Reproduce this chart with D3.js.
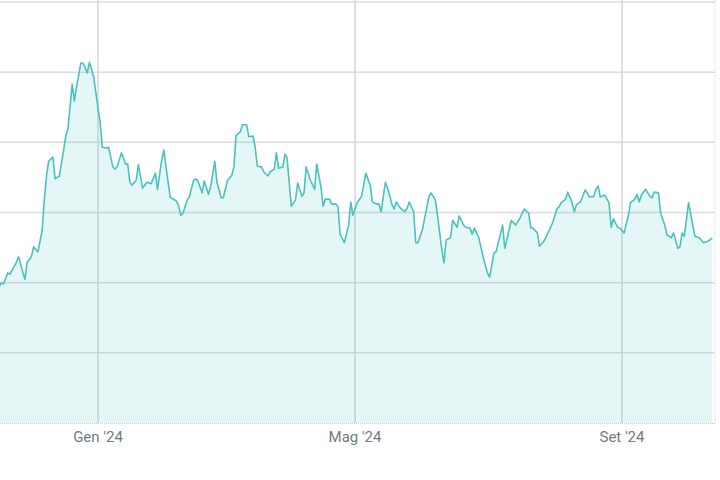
<!DOCTYPE html>
<html>
<head>
<meta charset="utf-8">
<script src="https://cdn.jsdelivr.net/npm/d3@7"></script>
<style>
  body { margin: 0; background: #fff; }
  svg { display: block; font-family: Roboto, "Noto Sans", sans-serif; }
</style>
</head>
<body>
<script>
// dates of the series (2023-11 .. 2024-10)
var dates = [
  "2023-11-16","2023-11-17","2023-11-18","2023-11-20","2023-11-21","2023-11-22","2023-11-24","2023-11-25","2023-11-27","2023-11-28",
  "2023-11-29","2023-12-01","2023-12-02","2023-12-04","2023-12-05","2023-12-06","2023-12-07","2023-12-08","2023-12-09","2023-12-11",
  "2023-12-12","2023-12-14","2023-12-16","2023-12-17","2023-12-18","2023-12-20","2023-12-21","2023-12-22","2023-12-24","2023-12-25",
  "2023-12-27","2023-12-28","2023-12-30","2024-01-01","2024-01-02","2024-01-03","2024-01-05","2024-01-06","2024-01-08","2024-01-09",
  "2024-01-10","2024-01-12","2024-01-14","2024-01-15","2024-01-16","2024-01-17","2024-01-19","2024-01-20","2024-01-22","2024-01-24",
  "2024-01-25","2024-01-26","2024-01-28","2024-01-29","2024-01-31","2024-02-01","2024-02-02","2024-02-04","2024-02-07","2024-02-08",
  "2024-02-09","2024-02-10","2024-02-12","2024-02-13","2024-02-15","2024-02-16","2024-02-17","2024-02-19","2024-02-20","2024-02-22",
  "2024-02-23","2024-02-25","2024-02-26","2024-02-28","2024-02-29","2024-03-02","2024-03-04","2024-03-05","2024-03-06","2024-03-08",
  "2024-03-09","2024-03-11","2024-03-12","2024-03-14","2024-03-15","2024-03-16","2024-03-18","2024-03-19","2024-03-21","2024-03-22",
  "2024-03-24","2024-03-25","2024-03-26","2024-03-28","2024-03-29","2024-03-30","2024-04-01","2024-04-03","2024-04-04","2024-04-06",
  "2024-04-07","2024-04-08","2024-04-10","2024-04-12","2024-04-13","2024-04-15","2024-04-16","2024-04-17","2024-04-19","2024-04-20",
  "2024-04-22","2024-04-23","2024-04-24","2024-04-26","2024-04-28","2024-04-29","2024-04-30","2024-05-02","2024-05-04","2024-05-06",
  "2024-05-08","2024-05-09","2024-05-11","2024-05-12","2024-05-13","2024-05-15","2024-05-16","2024-05-18","2024-05-19","2024-05-20",
  "2024-05-22","2024-05-24","2024-05-25","2024-05-26","2024-05-28","2024-05-29","2024-05-30","2024-06-01","2024-06-03","2024-06-04",
  "2024-06-05","2024-06-07","2024-06-08","2024-06-10","2024-06-11","2024-06-12","2024-06-14","2024-06-15","2024-06-17","2024-06-18",
  "2024-06-20","2024-06-21","2024-06-23","2024-06-24","2024-06-25","2024-06-27","2024-06-28","2024-06-29","2024-07-01","2024-07-02",
  "2024-07-04","2024-07-05","2024-07-06","2024-07-08","2024-07-09","2024-07-11","2024-07-12","2024-07-14","2024-07-16","2024-07-17",
  "2024-07-18","2024-07-20","2024-07-21","2024-07-22","2024-07-24","2024-07-25","2024-07-27","2024-07-28","2024-07-30","2024-07-31",
  "2024-08-02","2024-08-03","2024-08-04","2024-08-06","2024-08-07","2024-08-09","2024-08-10","2024-08-11","2024-08-13","2024-08-15",
  "2024-08-16","2024-08-17","2024-08-19","2024-08-20","2024-08-21","2024-08-22","2024-08-24","2024-08-26","2024-08-27","2024-08-28",
  "2024-08-30","2024-08-31","2024-09-02","2024-09-04","2024-09-05","2024-09-07","2024-09-08","2024-09-09","2024-09-10","2024-09-12",
  "2024-09-14","2024-09-15","2024-09-16","2024-09-18","2024-09-19","2024-09-21","2024-09-22","2024-09-24","2024-09-25","2024-09-27",
  "2024-09-28","2024-09-29","2024-09-30","2024-10-02","2024-10-04","2024-10-05","2024-10-07","2024-10-09","2024-10-11","2024-10-13"
];

// series values, same order as dates
var values = [
  19.4,20.0,19.8,21.4,21.2,21.8,22.9,23.7,21.5,20.5,
  22.9,23.7,25.1,24.4,25.9,27.5,31.8,35.1,37.3,37.9,
  34.8,35.2,38.9,40.9,41.9,48.3,45.9,47.9,51.3,51.3,
  49.9,51.4,49.3,44.9,42.9,39.3,39.2,39.3,36.5,36.2,
  36.5,38.5,36.9,36.9,34.3,33.9,34.6,36.8,33.5,34.3,
  34.2,34.1,35.6,33.3,37.5,38.9,36.5,32.2,31.6,30.9,
  29.6,29.9,31.8,32.2,34.6,34.8,34.5,32.8,34.5,32.6,
  33.6,37.3,34.3,32.1,32.1,34.6,35.3,36.5,41.0,41.5,
  42.5,42.5,40.8,40.9,39.3,36.6,36.5,35.8,35.2,35.8,
  36.2,38.5,36.3,36.5,38.3,37.8,30.9,31.8,34.2,32.3,
  32.8,36.5,34.6,33.3,36.9,33.6,30.9,31.9,31.9,31.2,
  31.2,30.8,26.9,25.7,28.2,31.5,29.6,31.4,32.3,35.6,
  33.9,31.5,31.2,31.2,30.1,34.3,33.5,31.2,30.5,31.5,
  30.6,30.1,30.6,31.5,30.1,25.7,25.7,27.5,30.6,32.2,
  32.8,31.8,29.6,24.7,22.8,26.1,26.4,28.9,27.9,29.5,
  28.2,27.9,27.8,26.9,27.8,26.4,25.1,23.7,21.4,20.8,
  24.2,24.4,25.7,28.2,24.9,27.5,28.9,28.2,29.2,29.9,
  30.5,29.9,27.8,27.8,27.1,25.2,25.9,26.5,27.8,28.5,
  30.5,30.8,31.4,31.9,32.9,31.4,30.1,31.1,31.6,33.2,
  32.8,32.2,32.3,33.3,33.8,32.2,32.5,31.4,27.9,29.1,
  27.9,27.8,27.1,29.6,31.4,31.9,32.6,31.5,32.5,33.3,
  32.3,32.1,32.9,32.8,29.9,28.1,26.8,26.4,27.1,24.9,
  25.1,27.1,26.6,31.4,28.1,26.6,26.4,25.7,25.9,26.4
];

// x tick positions and labels
var tickDates = ["2024-01-01", "2024-05-01", "2024-09-01"];
var tickLabels = ["Gen '24", "Mag '24", "Set '24"];
// y grid values
var yTicks = [0, 10, 20, 30, 40, 50, 60];

var width = 720, height = 480;
var parse = d3.timeParse("%Y-%m-%d");
var DAY = 864e5;

var data = dates.map(function(d, i){ return {date: parse(d), value: values[i]}; });

var svg = d3.select("body").append("svg")
    .attr("width", width)
    .attr("height", height);

// piecewise time scale: the month ticks are not evenly spaced in the original
var t0 = parse(tickDates[0]), t1 = parse(tickDates[1]), t2 = parse(tickDates[2]);
var pxPerDay = 2.1475;
var x = d3.scaleTime()
    .domain([new Date(+t0 - 98 / pxPerDay * DAY), t0, t1, t2, new Date(+t2 + 93 / pxPerDay * DAY)])
    .range([0, 98, 355, 622, 715]);

var y = d3.scaleLinear()
    .domain([0, 60])
    .range([423, 2]);

// horizontal grid
svg.append("g")
    .selectAll("line")
    .data(yTicks.filter(function(d){ return d > 0; }))
    .enter().append("line")
    .attr("x1", 0)
    .attr("x2", 715)
    .attr("y1", function(d){ return y(d); })
    .attr("y2", function(d){ return y(d); })
    .attr("stroke", "#dcdcdf")
    .attr("stroke-width", 1.5);

// vertical grid
svg.append("g")
    .selectAll("line")
    .data(tickDates)
    .enter().append("line")
    .attr("x1", function(d){ return x(parse(d)); })
    .attr("x2", function(d){ return x(parse(d)); })
    .attr("y1", 0)
    .attr("y2", y(0))
    .attr("stroke", "#d4d6d8")
    .attr("stroke-width", 1.5);

// the area and the line
var area = d3.area()
    .x(function(d){ return x(d.date); })
    .y0(y(0))
    .y1(function(d){ return y(d.value); });

var line = d3.line()
    .x(function(d){ return x(d.date); })
    .y(function(d){ return y(d.value); });

svg.append("path")
    .datum(data)
    .attr("d", area)
    .attr("fill", "rgb(72,196,192)")
    .attr("fill-opacity", 0.15);

svg.append("path")
    .datum(data)
    .attr("d", line)
    .attr("fill", "none")
    .attr("stroke", "#4ac2be")
    .attr("stroke-width", 1.6)
    .attr("stroke-linejoin", "round");

// dotted baseline and right edge
svg.append("line")
    .attr("x1", 0).attr("x2", 715)
    .attr("y1", y(0) + 0.5).attr("y2", y(0) + 0.5)
    .attr("stroke", "#c8cacd")
    .attr("stroke-dasharray", "1,1");

svg.append("line")
    .attr("x1", 715).attr("x2", 715)
    .attr("y1", 0).attr("y2", y(0))
    .attr("stroke", "#d8dadc")
    .attr("stroke-dasharray", "1,1");

// x labels
svg.append("g")
    .selectAll("text")
    .data(tickDates)
    .enter().append("text")
    .attr("x", function(d){ return x(parse(d)); })
    .attr("y", 442)
    .attr("text-anchor", "middle")
    .attr("fill", "#737a82")
    .style("font-size", "15px")
    .text(function(d, i){ return tickLabels[i]; });
</script>
</body>
</html>
